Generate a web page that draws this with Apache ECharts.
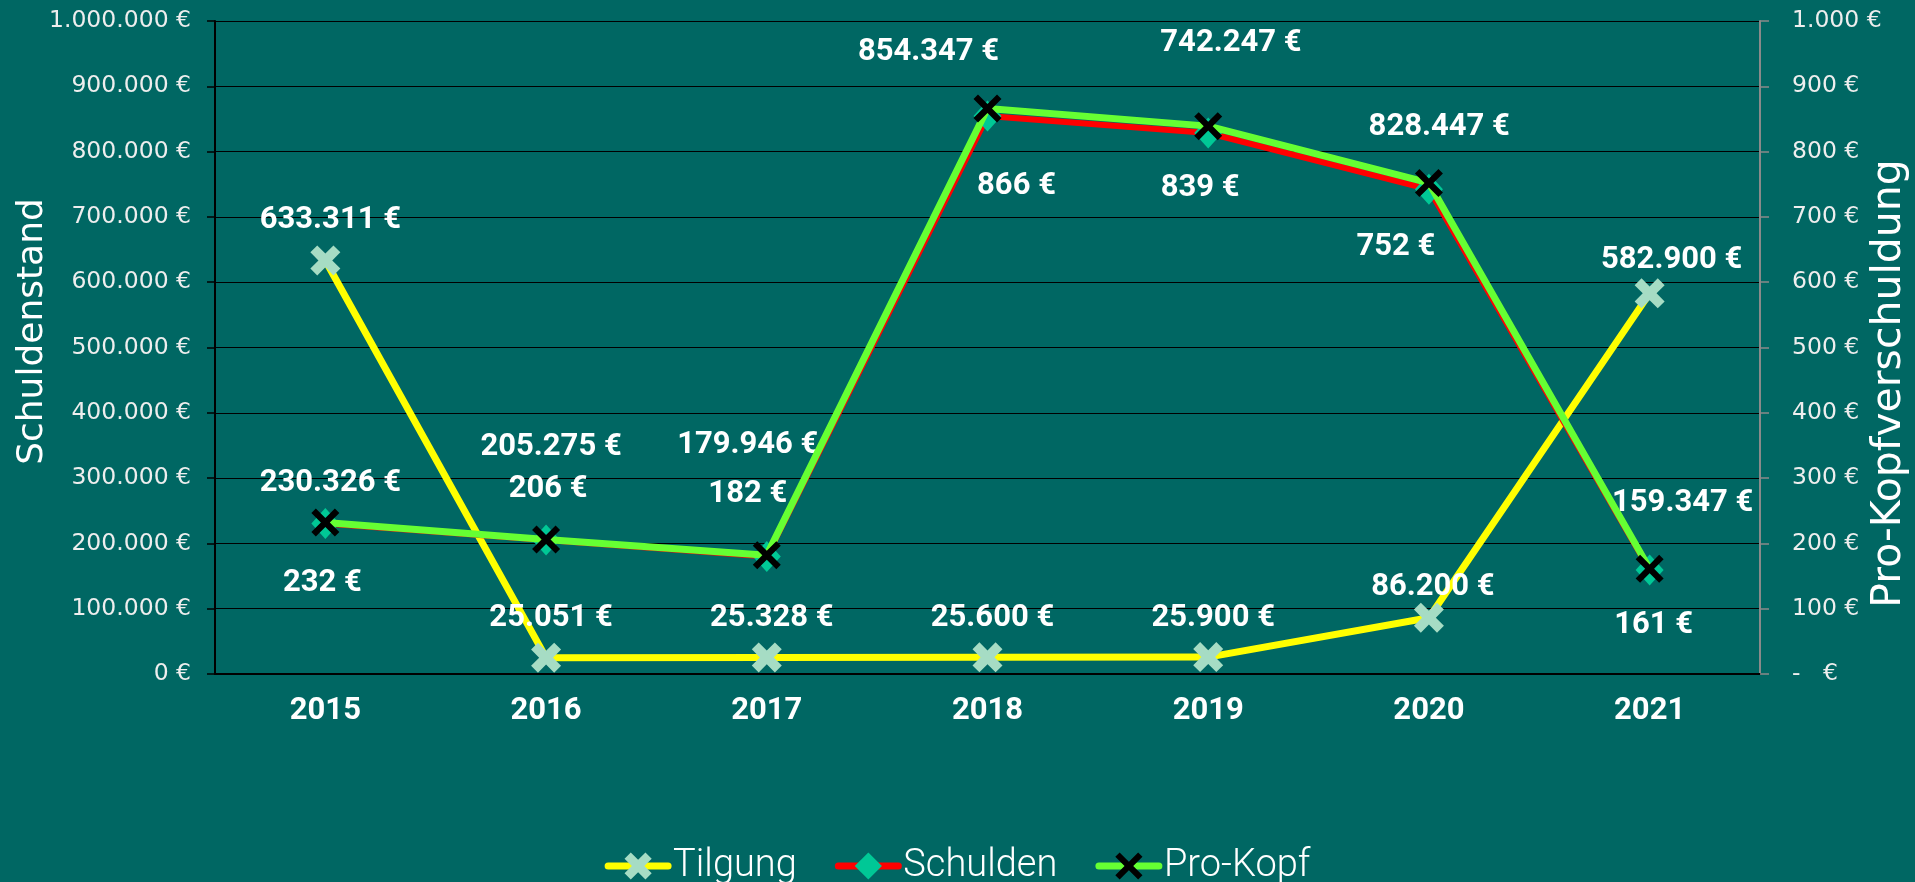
<!DOCTYPE html>
<html>
<head>
<meta charset="utf-8">
<script src="https://cdn.jsdelivr.net/npm/echarts@6/dist/echarts.min.js"></script>
<style>
html,body{margin:0;padding:0;background:#006763;}
#chart{width:1915px;height:882px;}
</style>
</head>
<body>
<div id="chart"></div>
<script>
// ---- data ----
var years = ['2015','2016','2017','2018','2019','2020','2021'];
var tilgung = [633311, 25051, 25328, 25600, 25900, 86200, 582900];
var schulden = [230326, 205275, 179946, 854347, 828447, 742247, 159347];
var proKopf = [232, 206, 182, 866, 839, 752, 161];
var leftTicks = {min: 0, max: 1000000, interval: 100000};
var rightTicks = {min: 0, max: 1000, interval: 100};

// label offsets (styling, px)
var offTilgung = [[5,-40],[5,-39],[5,-39],[5,-39],[5,-39],[4,-30],[22,-33]];
var offSchulden = [[5,-40],[5,-93],[-19,-111],[-59,-64],[231,-6],[-198,-146],[33,-67]];
var offProKopf = [[-3,61],[2,-50],[-19,-61],[29,78],[-8,62],[-33,64],[4,56]];

function fmt(v){
  var s = Math.round(v).toString();
  return s.replace(/\B(?=(\d{3})+(?!\d))/g, '.');
}
function eur(v){ return fmt(v) + ' €'; }

var xThick = 'path://M0,2.3L2.3,0L5,2.7L7.7,0L10,2.3L7.3,5L10,7.7L7.7,10L5,7.3L2.3,10L0,7.7L2.7,5Z';
var xThin = 'path://M0,1.6L1.6,0L5,3.4L8.4,0L10,1.6L6.6,5L10,8.4L8.4,10L5,6.6L1.6,10L0,8.4L3.4,5Z';

var labelFont = {color:'#ffffff', fontFamily:'Roboto', fontWeight:'bold', fontSize:31};

function mkData(vals, offs){
  return vals.map(function(v,i){
    return {value:v, label:{offset:offs[i]}};
  });
}

var chart = echarts.init(document.getElementById('chart'), null, {renderer:'canvas'});
var option = {
  backgroundColor:'#006763',
  animation:false,
  grid:{left:215, right:155, top:21, bottom:208, outerBoundsMode:'none', containLabel:false},
  legend:{
    data:['Tilgung','Schulden','Pro-Kopf'],
    left:'center', top:847, padding:0,
    itemWidth:60, itemHeight:34, itemGap:38,
    lineStyle:{width:7, cap:'round'},
    textStyle:{color:'#ffffff', fontFamily:'Roboto', fontWeight:300, fontSize:38}
  },
  xAxis:{
    type:'category', data:years, boundaryGap:true,
    axisLine:{lineStyle:{color:'#000000', width:2}},
    axisTick:{show:false},
    axisLabel:{color:'#ffffff', fontFamily:'Roboto', fontWeight:'bold', fontSize:31, margin:22},
    splitLine:{show:false}
  },
  yAxis:[{
    type:'value', min:leftTicks.min, max:leftTicks.max, interval:leftTicks.interval,
    name:'Schuldenstand', nameLocation:'middle', nameRotate:90, nameGap:164, nameMoveOverlap:false,
    nameTextStyle:{color:'#ffffff', fontFamily:'DejaVu Sans', fontSize:36, padding:[0,0,0,32]},
    axisLine:{show:true, lineStyle:{color:'#000000', width:2}},
    axisTick:{show:true, inside:false, length:8, lineStyle:{color:'#000000', width:1.5}},
    axisLabel:{color:'#eeeeee', fontFamily:'DejaVu Sans', fontSize:23.5, margin:24, formatter:function(v){return eur(v);}},
    splitLine:{show:true, lineStyle:{color:'#000000', width:1.2}}
  },{
    type:'value', min:rightTicks.min, max:rightTicks.max, interval:rightTicks.interval,
    position:'right',
    name:'Pro-Kopfverschuldung', nameLocation:'middle', nameRotate:90, nameGap:109, nameMoveOverlap:false,
    nameTextStyle:{color:'#ffffff', fontFamily:'DejaVu Sans', fontSize:41, padding:[0,72,0,0]},
    axisLine:{show:true, lineStyle:{color:'#8a8a8a', width:2}},
    axisTick:{show:true, inside:false, length:9, lineStyle:{color:'#8a8a8a', width:1.5}},
    axisLabel:{color:'#eeeeee', fontFamily:'DejaVu Sans', fontSize:23.5, margin:32, align:'left',
      formatter:function(v){return v===0 ? '-   €' : eur(v);}},
    splitLine:{show:false}
  }],
  series:[{
    name:'Tilgung', type:'line', z:2,
    data:mkData(tilgung, offTilgung),
    lineStyle:{color:'#ffff00', width:7},
    itemStyle:{color:'#a6dcc4'},
    symbol:xThick, symbolSize:30,
    label:Object.assign({show:true, position:'inside', formatter:function(p){return eur(p.value);}}, labelFont)
  },{
    name:'Schulden', type:'line', z:3,
    data:mkData(schulden, offSchulden),
    lineStyle:{color:'#ff0000', width:6},
    itemStyle:{color:'#00c896'},
    symbol:'diamond', symbolSize:[28,31],
    label:Object.assign({show:true, position:'inside', formatter:function(p){return eur(p.value);}}, labelFont)
  },{
    name:'Pro-Kopf', type:'line', yAxisIndex:1, z:4,
    data:mkData(proKopf, offProKopf),
    lineStyle:{color:'#66ff33', width:7},
    itemStyle:{color:'#000000'},
    symbol:xThin, symbolSize:28,
    label:Object.assign({show:true, position:'inside', formatter:function(p){return eur(p.value);}}, labelFont)
  }]
};
chart.setOption(option);
</script>
</body>
</html>
